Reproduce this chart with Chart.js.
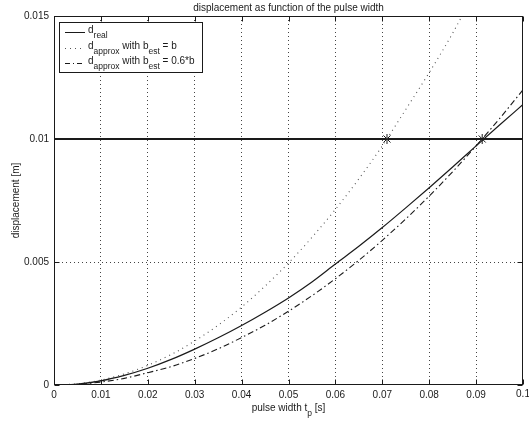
<!DOCTYPE html>
<html><head><meta charset="utf-8">
<script src="https://cdn.jsdelivr.net/npm/chart.js@4/dist/chart.umd.min.js"></script>
<style>html,body{margin:0;padding:0;background:#fff}#wrap{width:529px;height:421px}</style>
</head><body><div id="wrap"><canvas id="c" width="529" height="421"></canvas></div>
<script>
// ---- data ----
const pulseWidth = [0, 0.005, 0.01, 0.015, 0.02, 0.025, 0.03, 0.035, 0.04, 0.045, 0.05, 0.055, 0.06, 0.065, 0.07, 0.075, 0.08, 0.085, 0.09, 0.095, 0.1];
const dReal      = [0, 0.00004, 0.00017, 0.00039, 0.00068, 0.00104, 0.00146, 0.00192, 0.00242, 0.00296, 0.00354, 0.00419, 0.00492, 0.00564, 0.0064, 0.0072, 0.00802, 0.00886, 0.00972, 0.01057, 0.0114];
const dApproxB   = [0, 0.00005, 0.0002, 0.00045, 0.0008, 0.00124, 0.00179, 0.00243, 0.00317, 0.00402, 0.00496, 0.006, 0.00714, 0.00838, 0.00972, 0.0112, 0.0127, 0.0143, 0.0161, 0.0179, 0.0198];
const dApprox06  = [0, 0.00003, 0.00012, 0.00027, 0.0005, 0.00075, 0.00108, 0.00147, 0.00193, 0.00243, 0.003, 0.00363, 0.00432, 0.00507, 0.00588, 0.00675, 0.00768, 0.00867, 0.00972, 0.01083, 0.012];
const limitT = [0, 0.1];
const limitD = [0.01, 0.01];
const crossT = [0.071, 0.0913];
const crossD = [0.01, 0.01];
const xTicks = [0, 0.01, 0.02, 0.03, 0.04, 0.05, 0.06, 0.07, 0.08, 0.09, 0.1];
const xTickLabels = ['0', '0.01', '0.02', '0.03', '0.04', '0.05', '0.06', '0.07', '0.08', '0.09', '0.1'];
const yTicks = [0, 0.005, 0.01, 0.015];
const yTickLabels = ['0', '0.005', '0.01', '0.015'];
const titleText = 'displacement as function of the pulse width';
const yTitle = 'displacement [m]';

const FONT = '"Liberation Sans", Arial, Helvetica, sans-serif';
const INK = '#1a1a1a';

function pts(xs, ys) { return xs.map((x, i) => ({x: x, y: ys[i]})); }

// legend entries: segments [text, isSub]
const legendEntries = [
  {color: INK, dash: [], parts: [['d', 0], ['real', 1]]},
  {color: '#555', dash: [1, 4], parts: [['d', 0], ['approx', 1], [' with b', 0], ['est', 1], [' = b', 0]]},
  {color: INK, dash: [5, 3, 1, 3], parts: [['d', 0], ['approx', 1], [' with b', 0], ['est', 1], [' = 0.6*b', 0]]}
];

function drawRich(ctx, x, y, parts, mainSize, subSize, subDrop) {
  let cx = x;
  parts.forEach(p => {
    ctx.font = (p[1] ? subSize : mainSize) + 'px ' + FONT;
    ctx.fillText(p[0], cx, y + (p[1] ? subDrop : 0));
    cx += ctx.measureText(p[0]).width;
  });
  return cx;
}
function richWidth(ctx, parts, mainSize, subSize) {
  let w = 0;
  parts.forEach(p => { ctx.font = (p[1] ? subSize : mainSize) + 'px ' + FONT; w += ctx.measureText(p[0]).width; });
  return w;
}

const lastX = xTicks.length - 1;

const decor = {
  id: 'decor',
  afterDraw(chart) {
    const ctx = chart.ctx, a = chart.chartArea;
    const xs = chart.scales.x, ys = chart.scales.y;
    ctx.save();
    ctx.strokeStyle = INK; ctx.fillStyle = INK; ctx.lineWidth = 1; ctx.setLineDash([]);
    // box
    const L = Math.round(a.left) + 0.5, R = Math.round(a.right) - 0.5, T = Math.round(a.top) + 0.5, B = Math.round(a.bottom) - 0.5;
    ctx.strokeRect(L, T, R - L, B - T);
    // inward ticks
    ctx.beginPath();
    xTicks.forEach(v => {
      const px = Math.round(xs.getPixelForValue(v)) + 0.5;
      ctx.moveTo(px, B); ctx.lineTo(px, B - 5);
      ctx.moveTo(px, T); ctx.lineTo(px, T + 5);
    });
    yTicks.forEach(v => {
      const py = Math.round(ys.getPixelForValue(v)) + 0.5;
      ctx.moveTo(L, py); ctx.lineTo(L + 5, py);
      ctx.moveTo(R, py); ctx.lineTo(R - 5, py);
    });
    ctx.stroke();
    // last x tick label (runs off the canvas edge like the original)
    ctx.font = '10px ' + FONT;
    ctx.textAlign = 'center'; ctx.textBaseline = 'top';
    ctx.fillText(xTickLabels[lastX], xs.getPixelForValue(xTicks[lastX]), a.bottom + 4);
    // title
    ctx.textAlign = 'center'; ctx.textBaseline = 'alphabetic';
    ctx.fillText(titleText, (a.left + a.right) / 2, 11);
    // y title
    ctx.save();
    ctx.translate(19, (a.top + a.bottom) / 2);
    ctx.rotate(-Math.PI / 2);
    ctx.font = '10px ' + FONT;
    ctx.fillText(yTitle, 0, 0);
    ctx.restore();
    // x title with subscript
    ctx.textAlign = 'left';
    const xParts = [['pulse width t', 0], ['p', 1], [' [s]', 0]];
    const xw = richWidth(ctx, xParts, 10, 8.5);
    drawRich(ctx, (a.left + a.right) / 2 - xw / 2, 411, xParts, 10, 8.5, 5);
    // legend
    const lx = 59.5, ly = 22.5, lw = 143, lh = 50;
    ctx.fillStyle = '#fff';
    ctx.fillRect(lx, ly, lw, lh);
    ctx.strokeStyle = INK; ctx.lineWidth = 1;
    ctx.strokeRect(lx, ly, lw, lh);
    const baseY = [33, 48.5, 63.5];
    legendEntries.forEach((e, i) => {
      const y = baseY[i];
      ctx.beginPath();
      ctx.strokeStyle = e.color; ctx.setLineDash(e.dash);
      ctx.moveTo(65, Math.round(y - 1) + 0.5); ctx.lineTo(85, Math.round(y - 1) + 0.5);
      ctx.stroke();
      ctx.setLineDash([]);
      ctx.fillStyle = INK;
      drawRich(ctx, 88, y, e.parts, 10, 8.5, 5);
    });
    ctx.restore();
  }
};

const gridColor = (n) => (c) => (c.index === 0 || c.index === n - 1) ? 'rgba(0,0,0,0)' : '#444';

new Chart(document.getElementById('c'), {
  type: 'line',
  data: {
    datasets: [
      {label: 'd_real', data: pts(pulseWidth, dReal), borderColor: INK, borderWidth: 1.2, pointRadius: 0, cubicInterpolationMode: 'monotone'},
      {label: 'd_approx b', data: pts(pulseWidth, dApproxB), borderColor: '#555', borderWidth: 1.1, borderDash: [1, 4], pointRadius: 0, cubicInterpolationMode: 'monotone'},
      {label: 'd_approx 0.6b', data: pts(pulseWidth, dApprox06), borderColor: INK, borderWidth: 1.1, borderDash: [6, 3, 1.5, 3], pointRadius: 0, cubicInterpolationMode: 'monotone'},
      {label: 'limit', data: pts(limitT, limitD), borderColor: INK, borderWidth: 1.8, pointRadius: 0},
      {label: 'cross', data: pts(crossT, crossD), showLine: false, pointStyle: 'star', pointRadius: 5, borderColor: INK, borderWidth: 1, backgroundColor: INK}
    ]
  },
  options: {
    responsive: false,
    animation: false,
    devicePixelRatio: 1,
    layout: {padding: {top: 16, right: 2, bottom: 0, left: 0}},
    plugins: {legend: {display: false}, title: {display: false}, tooltip: {enabled: false}},
    scales: {
      x: {
        type: 'linear', min: 0, max: 0.1,
        afterBuildTicks: s => { s.ticks = xTicks.map(v => ({value: v})); },
        afterFit: s => { s.height = 36; s.paddingLeft = 0; s.paddingRight = 0; },
        ticks: {autoSkip: false, maxRotation: 0, padding: 4, color: INK, font: {size: 10, family: FONT},
                callback: (v, i) => (i === lastX ? '' : xTickLabels[i])},
        grid: {color: gridColor(xTicks.length), drawTicks: false, lineWidth: 1},
        border: {display: false, dash: [1, 3]}
      },
      y: {
        type: 'linear', min: 0, max: 0.015,
        afterBuildTicks: s => { s.ticks = yTicks.map(v => ({value: v})); },
        afterFit: s => { s.width = 54; s.paddingTop = 0; s.paddingBottom = 0; },
        ticks: {autoSkip: false, padding: 5, color: INK, font: {size: 10, family: FONT}, callback: (v, i) => yTickLabels[i]},
        grid: {color: gridColor(yTicks.length), drawTicks: false, lineWidth: 1},
        border: {display: false, dash: [1, 3]}
      }
    }
  },
  plugins: [decor]
});
</script>
</body></html>
